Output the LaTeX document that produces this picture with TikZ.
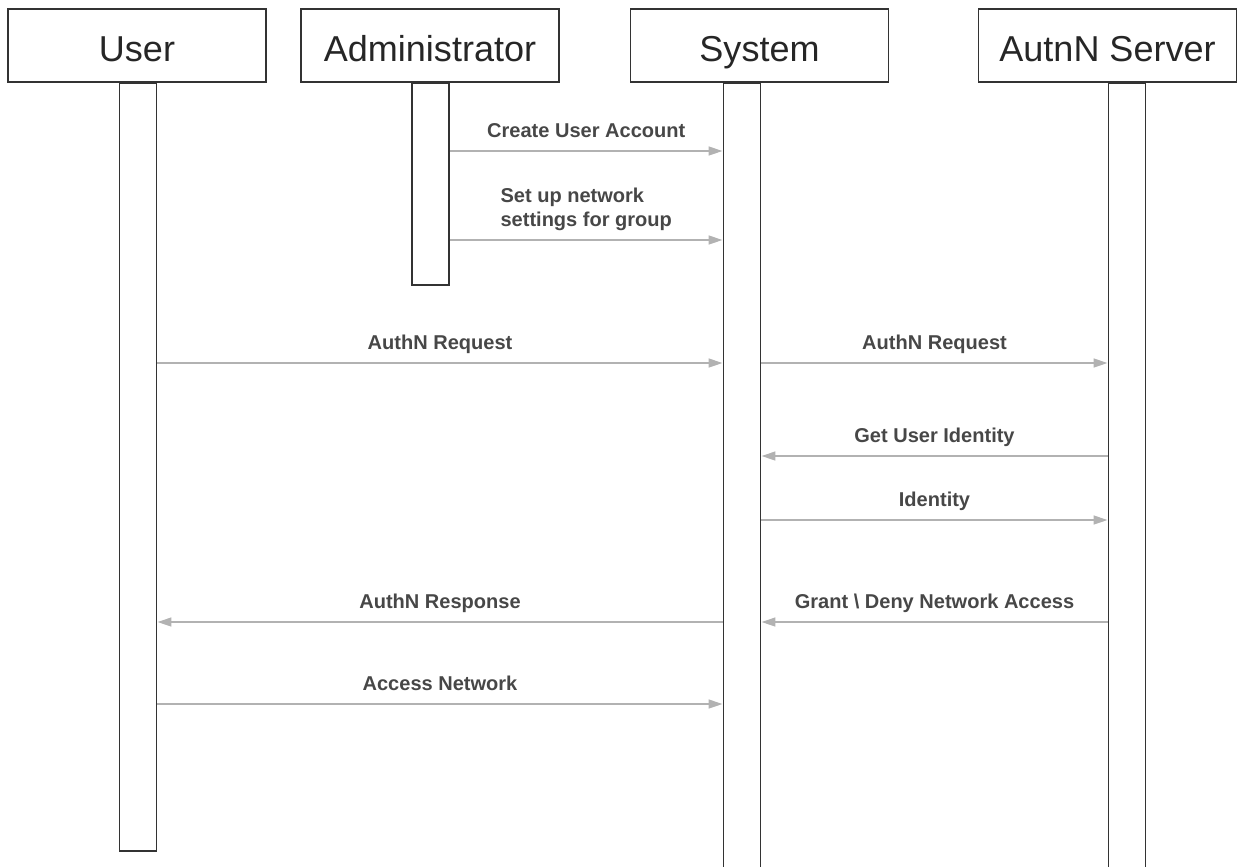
\documentclass[tikz,border=0pt]{standalone}
\usepackage{fontspec}
\setmainfont{Liberation Sans}
\usetikzlibrary{arrows.meta, positioning}

\begin{document}
\begin{tikzpicture}[
  x=0.02cm, y=-0.02cm,
  every node/.style={align=center},
  actor/.style={draw=black!80, line width=1pt, minimum width=5.16cm, minimum height=1.46cm, inner sep=0pt, text height=19pt, text depth=1.3pt, text=black!85, font=\fontsize{20.5}{24}\selectfont},
  bar/.style={draw=black!80, line width=1pt, minimum width=0.74cm, inner sep=0pt, anchor=north},
  msg/.style={draw=black!30, line width=1.1pt, -{Triangle[length=8pt,width=5pt]}},
  lbl/.style={text=black!72, inner sep=0pt, text depth=0pt, font=\bfseries\fontsize{11.4}{13.7}\selectfont},
  >={Stealth}
]
\clip (0,0) rectangle (1240,866);
% Lifelines
\node[actor] (user) at (137,45.5) {User};
\node[actor] (admin) at (430,45.5) {Administrator};
\node[actor] (system) at (759.5,45.5) {System};
\node[actor] (server) at (1107.5,45.5) {AutnN Server};
\node[bar, minimum height=15.36cm] (userbar) at (138,82) {};
\node[bar, minimum height=4.04cm] (adminbar) at (430.5,82) {};
\node[bar, minimum height=16cm] (sysbar) at (742,82) {};
\node[bar, minimum height=16cm] (srvbar) at (1127,82) {};
% Messages
\draw[msg] (adminbar.east |- 0,151) -- node[lbl, above=7pt] {Create User Account} (sysbar.west |- 0,151);
\draw[msg] (adminbar.east |- 0,240) -- node[lbl, above=7pt, align=left] {Set up network\\settings for group} (sysbar.west |- 0,240);
\draw[msg] (userbar.east |- 0,363) -- node[lbl, above=7pt] {AuthN Request} (sysbar.west |- 0,363);
\draw[msg] (sysbar.east |- 0,363) -- node[lbl, above=7pt] {AuthN Request} (srvbar.west |- 0,363);
\draw[msg] (srvbar.west |- 0,456) -- node[lbl, above=7pt] {Get User Identity} (sysbar.east |- 0,456);
\draw[msg] (sysbar.east |- 0,520) -- node[lbl, above=7pt] {Identity} (srvbar.west |- 0,520);
\draw[msg] (srvbar.west |- 0,622) -- node[lbl, above=7pt] {Grant \textbackslash{} Deny Network Access} (sysbar.east |- 0,622);
\draw[msg] (sysbar.west |- 0,622) -- node[lbl, above=7pt] {AuthN Response} (userbar.east |- 0,622);
\draw[msg] (userbar.east |- 0,704) -- node[lbl, above=7pt] {Access Network} (sysbar.west |- 0,704);
\end{tikzpicture}
\end{document}
